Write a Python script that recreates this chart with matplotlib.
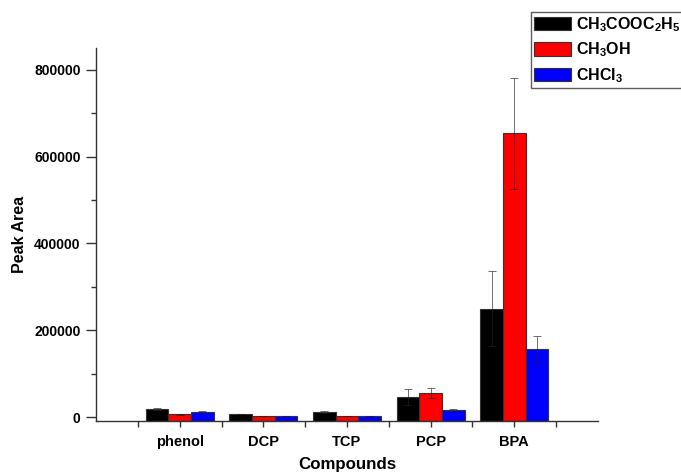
import numpy as np
import matplotlib
matplotlib.use("Agg")
import matplotlib.pyplot as plt
from matplotlib.ticker import MultipleLocator, FixedLocator

plt.rcParams['font.family'] = ['Liberation Sans', 'DejaVu Sans']
plt.rcParams['font.weight'] = 'bold'
plt.rcParams['mathtext.fontset'] = 'custom'
plt.rcParams['mathtext.rm'] = 'Liberation Sans:bold'
plt.rcParams['mathtext.default'] = 'rm'

compounds = ['phenol', 'DCP', 'TCP', 'PCP', 'BPA']
solvents = [r'CH$_3$COOC$_2$H$_5$', r'CH$_3$OH', r'CHCl$_3$']
colors = ['#000000', '#ff0000', '#0000ff']

# peak areas per solvent (ethyl acetate, methanol, chloroform)
ethyl_acetate = [19000, 7000, 12000, 46000, 250000]
methanol = [6000, 2000, 2000, 55000, 654000]
chloroform = [12000, 2500, 3000, 16000, 157000]
err_ethyl = [2000, 1000, 1500, 18000, 86000]
err_methanol = [1000, 500, 500, 11000, 128000]
err_chloroform = [1000, 500, 500, 2000, 29000]

series = [ethyl_acetate, methanol, chloroform]
errors = [err_ethyl, err_methanol, err_chloroform]

ymin, ymax = -9000, 850000

fig = plt.figure(figsize=(6.81, 4.74), dpi=100)
ax = fig.add_axes([96/681, 1 - 421/474, 502/681, 373/474])

x = np.arange(1, len(compounds) + 1)
w = 0.27
for i, (vals, err) in enumerate(zip(series, errors)):
    pos = x + (i - 1) * w
    vals = np.array(vals)
    ax.bar(pos, vals - ymin, bottom=ymin, width=w, color=colors[i],
           edgecolor='#333333', linewidth=0.8, label=solvents[i], zorder=2)
    ax.errorbar(pos, vals, yerr=err, fmt='none', ecolor='#222222',
                elinewidth=0.6, capsize=3, capthick=0.6, alpha=0.75, zorder=3)

ax.set_xlim(0, 6)
ax.set_ylim(ymin, ymax)
ax.set_xticks(x)
ax.set_xticklabels(compounds)
ax.xaxis.set_minor_locator(FixedLocator(np.arange(0.5, 6.0, 1.0)))
ax.yaxis.set_major_locator(MultipleLocator(200000))
ax.yaxis.set_minor_locator(MultipleLocator(100000))

for s in ['top', 'right']:
    ax.spines[s].set_visible(False)
for s in ['left', 'bottom']:
    ax.spines[s].set_color('#333333')
    ax.spines[s].set_linewidth(1.0)

ax.tick_params(axis='x', which='both', direction='out', length=4,
               width=1, color='#333333', labelsize=10.5, pad=6)
ax.tick_params(axis='y', which='major', direction='out', length=7,
               width=1, color='#333333', labelsize=10, pad=4)
ax.tick_params(axis='y', which='minor', direction='out', length=3.5,
               width=1, color='#333333')

ax.set_xlabel('Compounds', fontsize=12.2, fontweight='bold', labelpad=6)
ax.set_ylabel('Peak Area', fontsize=11.5, fontweight='bold', labelpad=5)

leg = fig.legend(loc='upper left', bbox_to_anchor=(531/681, 1 - 12/474),
                 fontsize=11.5, frameon=True, fancybox=False,
                 handlelength=2.3, handleheight=0.9, handletextpad=0.3,
                 labelspacing=0.42, borderpad=0.2, borderaxespad=0)
leg.get_frame().set_edgecolor('#333333')
leg.get_frame().set_linewidth(1.0)

fig.savefig('out.png', dpi=100)
